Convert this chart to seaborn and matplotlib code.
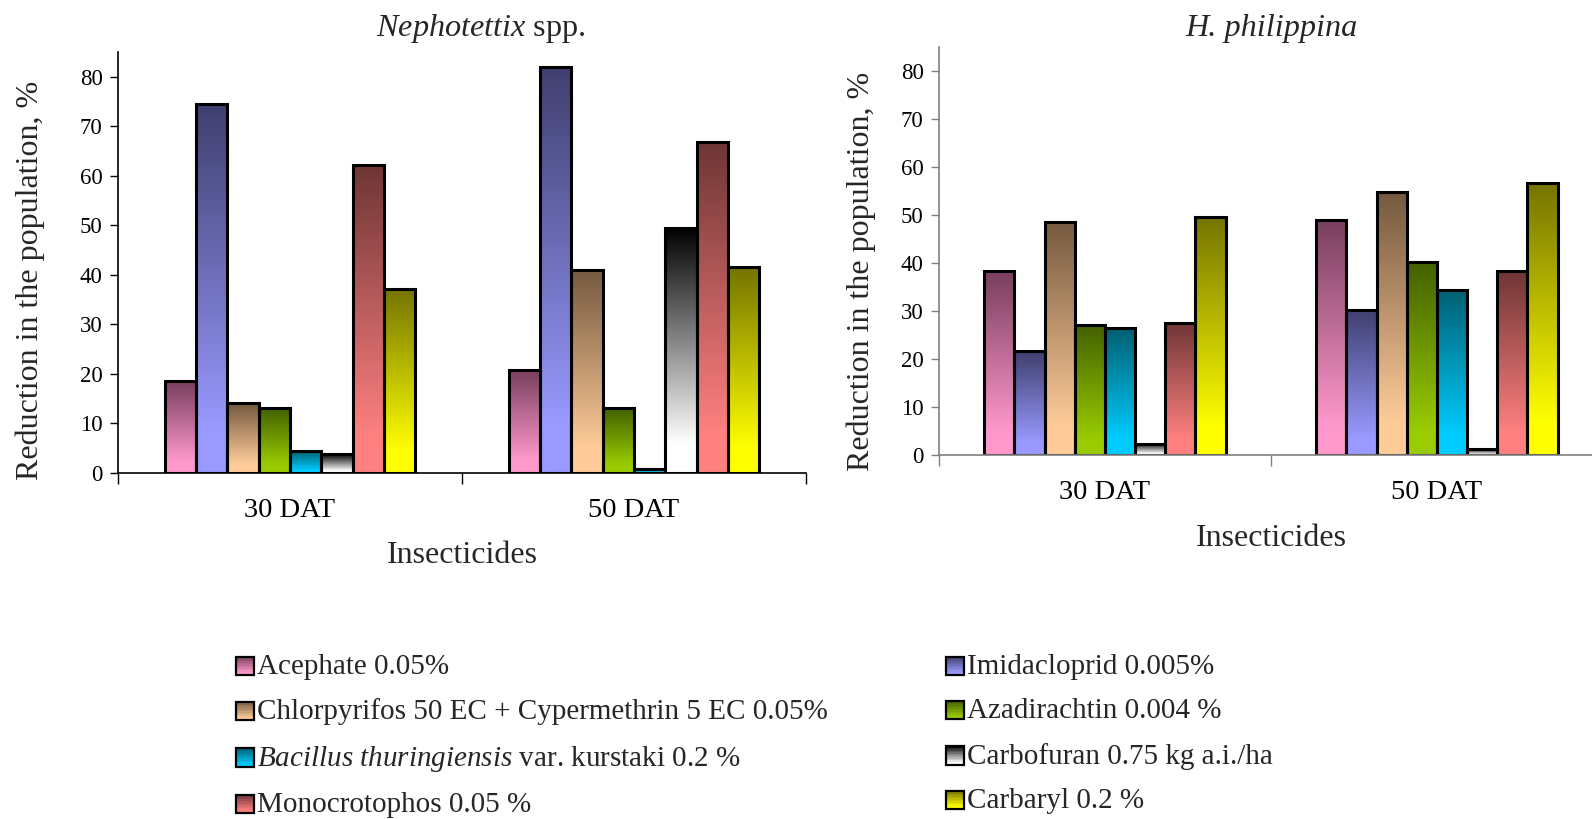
import numpy as np
import pandas as pd
import matplotlib
matplotlib.use("Agg")
import matplotlib.pyplot as plt
import seaborn as sns
from matplotlib.patches import Rectangle, Patch
from matplotlib.colors import to_rgb, to_hex

# ---------------- data ----------------
times = ["30 DAT", "50 DAT"]
keys = ["Acephate", "Imidacloprid", "Chlorpyrifos", "Azadirachtin",
        "Bt", "Carbofuran", "Monocrotophos", "Carbaryl"]
legend_labels = [
    "Acephate 0.05%",
    "Imidacloprid 0.005%",
    "Chlorpyrifos 50 EC + Cypermethrin 5 EC 0.05%",
    "Azadirachtin 0.004 %",
    r"$\mathit{Bacillus\ thuringiensis}$ var. kurstaki 0.2 %",
    "Carbofuran 0.75 kg a.i./ha",
    "Monocrotophos 0.05 %",
    "Carbaryl 0.2 %",
]
nephotettix_30 = [18.5, 74.6, 14.1, 13.1, 4.4, 3.8, 62.2, 37.2]
nephotettix_50 = [20.8, 82.0, 40.9, 13.1, 0.9, 49.5, 66.9, 41.5]
philippina_30 = [38.4, 21.6, 48.6, 27.1, 26.4, 2.4, 27.5, 49.5]
philippina_50 = [49.0, 30.3, 54.7, 40.3, 34.4, 1.2, 38.4, 56.7]

dark_colors = ["#783e5e", "#3f3f6e", "#75593f", "#436000",
               "#005f70", "#000000", "#6e3535", "#747400"]
light_colors = ["#ff99cc", "#9999ff", "#ffcc99", "#99cc00",
                "#00ccff", "#ffffff", "#ff8080", "#ffff00"]

# ---------------- style ----------------
sns.set_theme(style="ticks")
plt.rcParams["font.family"] = ["Liberation Serif", "DejaVu Serif"]
plt.rcParams["mathtext.fontset"] = "custom"
plt.rcParams["mathtext.rm"] = "Liberation Serif"
plt.rcParams["mathtext.it"] = "Liberation Serif:italic"
plt.rcParams["mathtext.bf"] = "Liberation Serif:bold"


def grad_colors(dark, light, t):
    d = np.array(to_rgb(dark))
    l = np.array(to_rgb(light))
    f = np.clip((t - 0.12) / 0.88, 0, 1)[:, None]
    return l * (1 - f) + d * f


class GradHandler:
    def __init__(self, dark, light):
        self.dark, self.light = dark, light

    def legend_artist(self, legend, orig_handle, fontsize, handlebox):
        x0, y0 = handlebox.xdescent, handlebox.ydescent
        w, h = handlebox.width, handlebox.height
        tr = handlebox.get_transform()
        n = 12
        cols = grad_colors(self.dark, self.light, (np.arange(n) + 0.5) / n)
        for i in range(n):
            r = Rectangle((x0, y0 + h * i / n), w, h / n + 0.3, facecolor=cols[i],
                          edgecolor="none", transform=tr)
            handlebox.add_artist(r)
        border = Rectangle((x0, y0), w, h, facecolor="none", edgecolor="black",
                           linewidth=1.6, transform=tr)
        handlebox.add_artist(border)
        return border


fig = plt.figure(figsize=(15.92, 8.19), dpi=100)
ax1 = fig.add_axes([0.0741, 0.4225, 0.4322, 0.514])
ax2 = fig.add_axes([0.5898, 0.4444, 0.4171, 0.4982])

palette = dict(zip(keys, dark_colors))
hex_to_idx = {to_hex(c): i for i, c in enumerate(dark_colors)}


def panel(ax, v30, v50, axis_color, title, title_x, title_pad,
          ylab_xy, xlab_y, title_style="normal"):
    df = pd.DataFrame({
        "time": np.repeat(times, len(keys)),
        "insecticide": keys * 2,
        "value": list(v30) + list(v50),
    })
    sns.barplot(data=df, x="time", y="value", hue="insecticide",
                order=times, hue_order=keys, palette=palette, saturation=1,
                width=0.727, edgecolor="black", linewidth=2.2,
                legend=False, ax=ax)
    t = np.linspace(0, 1, 256)
    for p in list(ax.patches):
        idx = hex_to_idx[to_hex(p.get_facecolor()[:3])]
        img = grad_colors(dark_colors[idx], light_colors[idx], t)[:, None, :]
        x0, w, h = p.get_x(), p.get_width(), p.get_height()
        im = ax.imshow(img, extent=[x0, x0 + w, 0, h], origin="lower",
                       aspect="auto", interpolation="bilinear", zorder=0.9)
        im.set_clip_path(p)
        p.set_facecolor("none")
        p.set_zorder(1)

    ax.set_xlim(-0.5, 1.5)
    ax.set_ylim(0, 85)
    sns.despine(ax=ax)
    for s in ("left", "bottom"):
        ax.spines[s].set_color(axis_color)
        ax.spines[s].set_linewidth(1.2)

    ax.set_yticks(range(0, 81, 10))
    ax.tick_params(axis="y", direction="out", length=5.5, width=1.0,
                   color=axis_color, labelcolor="black", labelsize=16.5, pad=5.5)
    ax.set_xticks([0, 1])
    ax.set_xticklabels(times)
    ax.tick_params(axis="x", which="major", length=0, labelsize=20.5, pad=18,
                   labelcolor="black")
    ax.set_xticks([-0.5, 0.5, 1.5], minor=True)
    ax.tick_params(axis="x", which="minor", length=8, width=1.0,
                   color=axis_color, direction="out")

    ax.set_ylabel("Reduction in the population, %", fontsize=23, va="center")
    ax.yaxis.set_label_coords(*ylab_xy)
    ax.set_xlabel("Insecticides", fontsize=23, va="top")
    ax.xaxis.set_label_coords(0.5, xlab_y)

    ax.set_title(title, fontsize=23.2, pad=title_pad, fontstyle=title_style)
    ax.title.set_x(title_x)
    ax.set_facecolor("white")


panel(ax1, nephotettix_30, nephotettix_50, "black",
      r"$\mathit{Nephotettix}$ spp.", 0.527, 11.5, (-0.128, 0.458), -0.1615)
panel(ax2, philippina_30, philippina_50, "#808080",
      "H. philippina", 0.5, 7.8, (-0.117, 0.449), -0.169, title_style="italic")

# ---------------- legend (two columns) ----------------
handles = [Patch(label=l) for l in legend_labels]
hmap = {h: GradHandler(d, l) for h, d, l in zip(handles, dark_colors, light_colors)}
common = dict(loc="upper left", frameon=False, fontsize=21, borderpad=0,
              borderaxespad=0, handlelength=0.6, handleheight=0.6,
              handletextpad=0.12, labelspacing=0.63)
leg1 = fig.legend(handles=handles[0::2], labels=legend_labels[0::2],
                  handler_map=hmap, bbox_to_anchor=(236 / 1592, 1 - 654 / 819),
                  **common)
leg2 = fig.legend(handles=handles[1::2], labels=legend_labels[1::2],
                  handler_map=hmap, bbox_to_anchor=(946 / 1592, 1 - 654 / 819),
                  **common)

fig.savefig("out.png", dpi=100, facecolor="white")
